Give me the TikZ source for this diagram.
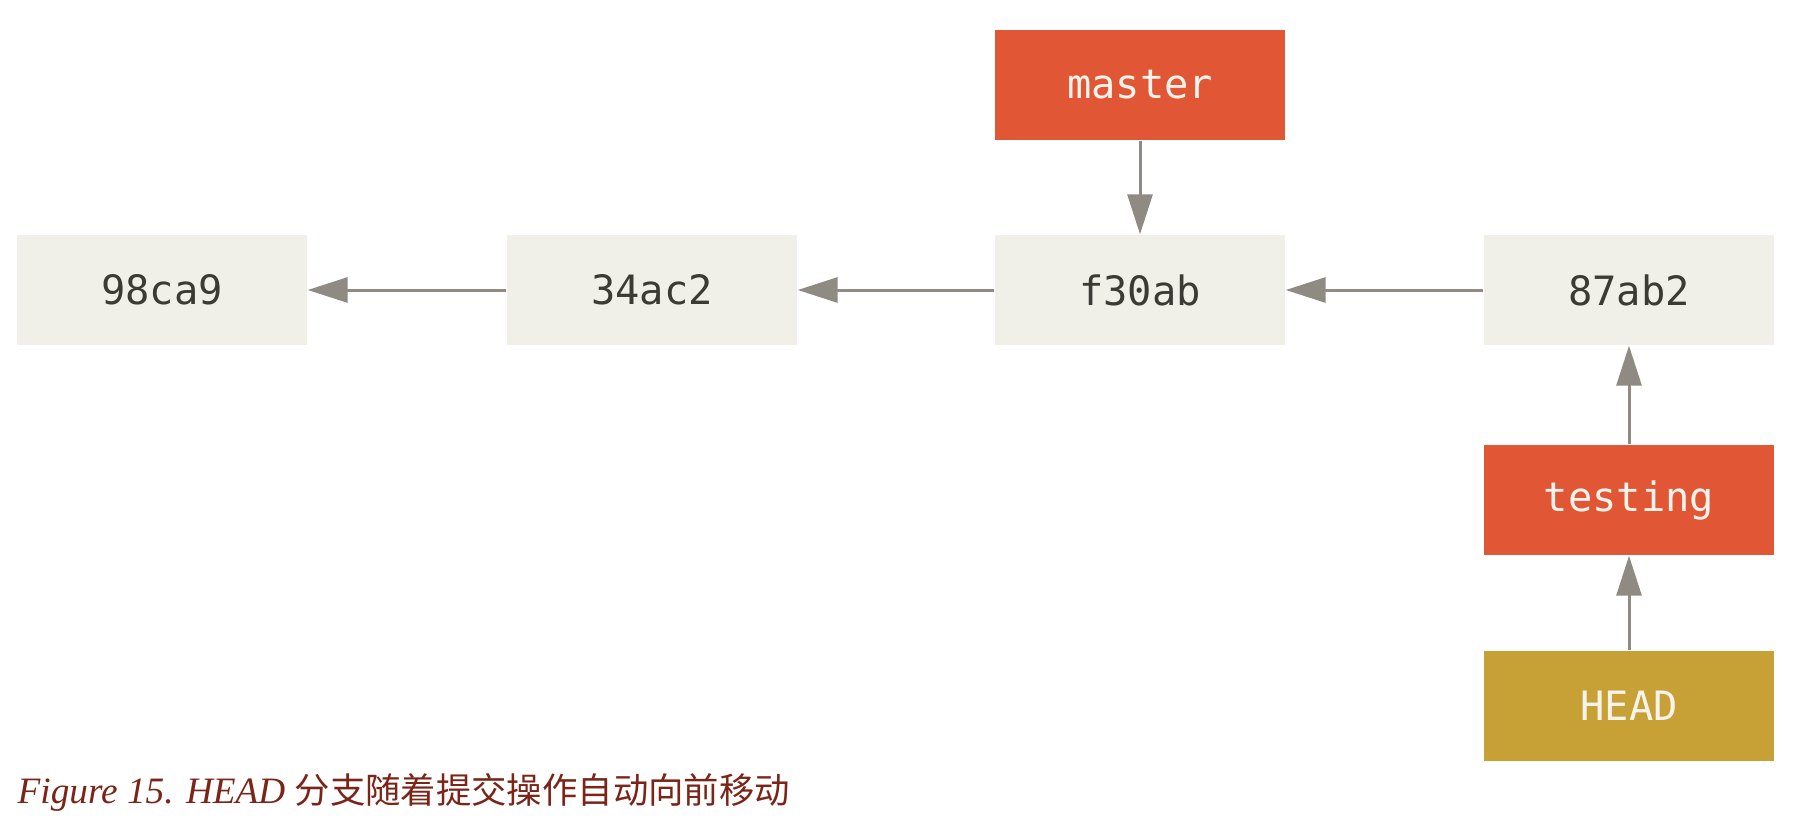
\documentclass[tikz,border=0pt]{standalone}
\usepackage{fontspec}
\setmainfont{Liberation Serif}
\setmonofont{DejaVu Sans Mono}
\newfontfamily\cjk[Scale=0.95]{Noto Sans CJK SC}
\usetikzlibrary{arrows.meta}

\begin{document}
\begin{tikzpicture}[
    commit/.style={shape=rectangle,fill=git_commit,text=git_text,minimum width=2.9cm,minimum height=1.1cm,font=\ttfamily\fontsize{11.5}{13}\selectfont},
    branch/.style={commit,fill=git_branch,text=git_label},
    headref/.style={commit,fill=git_head,text=git_label},
    pointer/.style={draw=git_arrow,line width=0.03cm,-{Triangle[length=0.4cm,width=0.25cm]}}
  ]
    \definecolor{git_commit}{RGB}{240,239,232}
    \definecolor{git_branch}{RGB}{225,87,53}
    \definecolor{git_head}{RGB}{200,161,54}
    \definecolor{git_arrow}{RGB}{143,139,131}
    \definecolor{git_text}{RGB}{61,58,53}
    \definecolor{git_label}{RGB}{246,243,236}
    \definecolor{git_caption}{RGB}{122,37,24}
    \useasboundingbox (0,0) rectangle (18.18,-8.4);
    \node[commit]  (c98ca9)  at (1.62,-2.90)  {98ca9};
    \node[commit]  (c34ac2)  at (6.52,-2.90)  {34ac2};
    \node[commit]  (cf30ab)  at (11.40,-2.90) {f30ab};
    \node[commit]  (c87ab2)  at (16.29,-2.90) {87ab2};
    \node[branch]  (master)  at (11.40,-0.85) {master};
    \node[branch]  (testing) at (16.29,-5.00) {testing};
    \node[headref] (head)    at (16.29,-7.06) {HEAD};
    \draw[pointer] (c34ac2) -- (c98ca9);
    \draw[pointer] (cf30ab) -- (c34ac2);
    \draw[pointer] (c87ab2) -- (cf30ab);
    \draw[pointer] (master) -- (cf30ab);
    \draw[pointer] (testing) -- (c87ab2);
    \draw[pointer] (head) -- (testing);
    \node[anchor=base west,inner sep=0pt,text=git_caption,font=\fontsize{10.6}{13}\selectfont] (caption) at (0.17,-8.03)
      {\textit{Figure 15. HEAD} {\cjk 分支随着提交操作自动向前移动}};
\end{tikzpicture}
\end{document}
